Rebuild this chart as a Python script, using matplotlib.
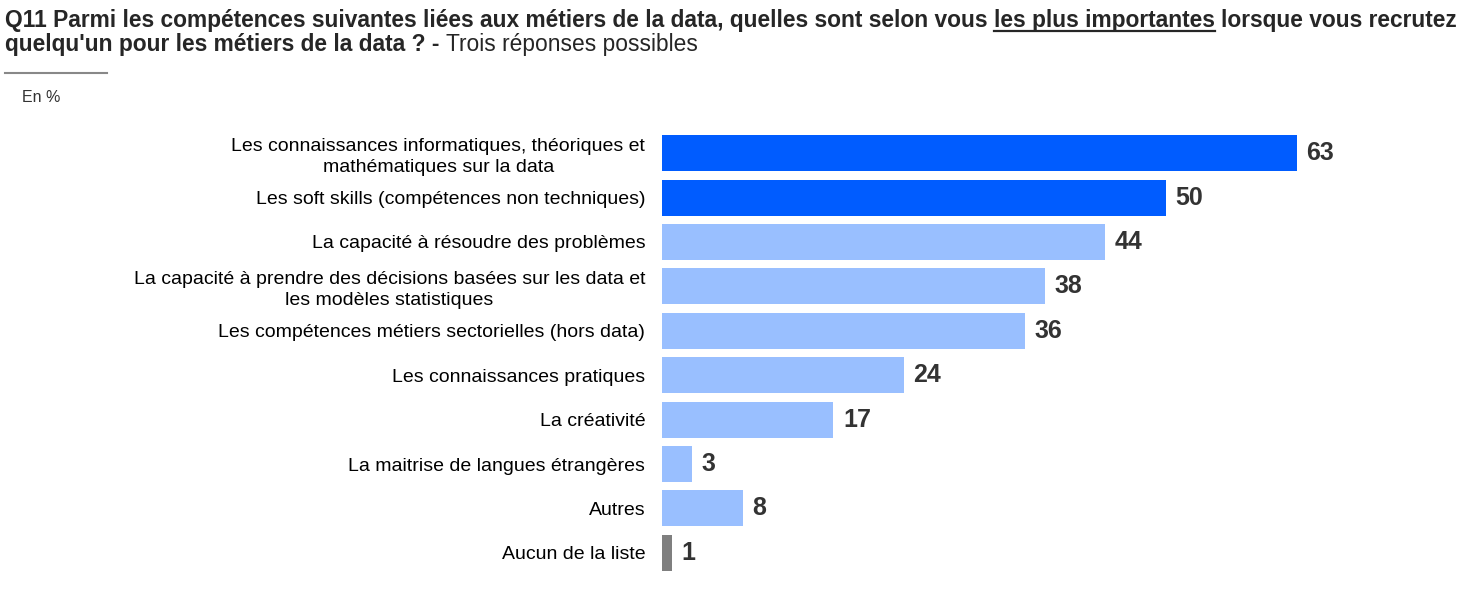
import matplotlib.pyplot as plt

plt.rcParams['font.family'] = ['Liberation Sans', 'DejaVu Sans']

labels = [
    "Les connaissances informatiques, théoriques et\nmathématiques sur la data",
    "Les soft skills (compétences non techniques)",
    "La capacité à résoudre des problèmes",
    "La capacité à prendre des décisions basées sur les data et\nles modèles statistiques",
    "Les compétences métiers sectorielles (hors data)",
    "Les connaissances pratiques",
    "La créativité",
    "La maitrise de langues étrangères",
    "Autres",
    "Aucun de la liste",
]
values = [63, 50, 44, 38, 36, 24, 17, 3, 8, 1]
groups = ["top", "top", "rest", "rest", "rest", "rest", "rest", "rest", "rest", "none"]
palette = {"top": "#005CFF", "rest": "#99BFFF", "none": "#7F7F7F"}
text_color = "#262626"

W, H = 1475, 595
fig = plt.figure(figsize=(W / 100, H / 100), dpi=100)

# axes placed so bars start at x=662 px and rows span ~131..575 px
ax = fig.add_axes([662 / W, 1 - 575 / H, 806 / W, (575 - 131) / H])
ypos = list(range(len(values)))
ax.barh(ypos, values, height=0.81, color=[palette[g] for g in groups])
ax.set_xlim(0, 80)
ax.set_ylim(len(values) - 0.5, -0.5)
ax.set_yticks(ypos)
ax.set_yticklabels(labels, fontsize=14, color="black", multialignment="center",
                   linespacing=1.3)
ax.tick_params(axis="y", length=0, pad=12)
ax.set_xticks([])
for s in ax.spines.values():
    s.set_visible(False)

for y, v in zip(ypos, values):
    ax.annotate(str(v), (v, y), xytext=(7, 0), textcoords="offset points",
                va="center", ha="left", fontsize=18, fontweight="bold", color="#333333")

# title made of several runs: bold / bold underlined / regular
renderer = fig.canvas.get_renderer()
title_size = 16.4


def run(x_px, y_px, s, weight="bold", underline=False):
    t = fig.text(x_px / W, 1 - y_px / H, s, fontsize=title_size, fontweight=weight,
                 color=text_color, ha="left", va="baseline")
    bb = t.get_window_extent(renderer)
    if underline:
        fig.add_artist(plt.Line2D([bb.x0 / W, bb.x1 / W],
                                  [1 - (y_px + 4) / H] * 2, color=text_color, lw=1.6))
    return bb.x1


space = fig.text(0, 0, "a a", fontsize=title_size, fontweight="bold")
w2 = space.get_window_extent(renderer).width
space.set_text("aa")
sp = w2 - space.get_window_extent(renderer).width
space.remove()

x = run(5, 27, "Q11 Parmi les compétences suivantes liées aux métiers de la data, quelles sont selon vous")
x = run(x + sp, 27, "les plus importantes", underline=True)
run(x + sp, 27, "lorsque vous recrutez")
x = run(5, 51, "quelqu'un pour les métiers de la data ? -")
run(x + sp, 51, "Trois réponses possibles", weight="normal")

fig.add_artist(plt.Line2D([5 / W, 107 / W], [1 - 73 / H] * 2, color="#888888", lw=1.5))
fig.text(22 / W, 1 - 98 / H, "En %", fontsize=11.5, color="#333333", va="center", ha="left")

fig.savefig("out.png", dpi=100, facecolor="white")
